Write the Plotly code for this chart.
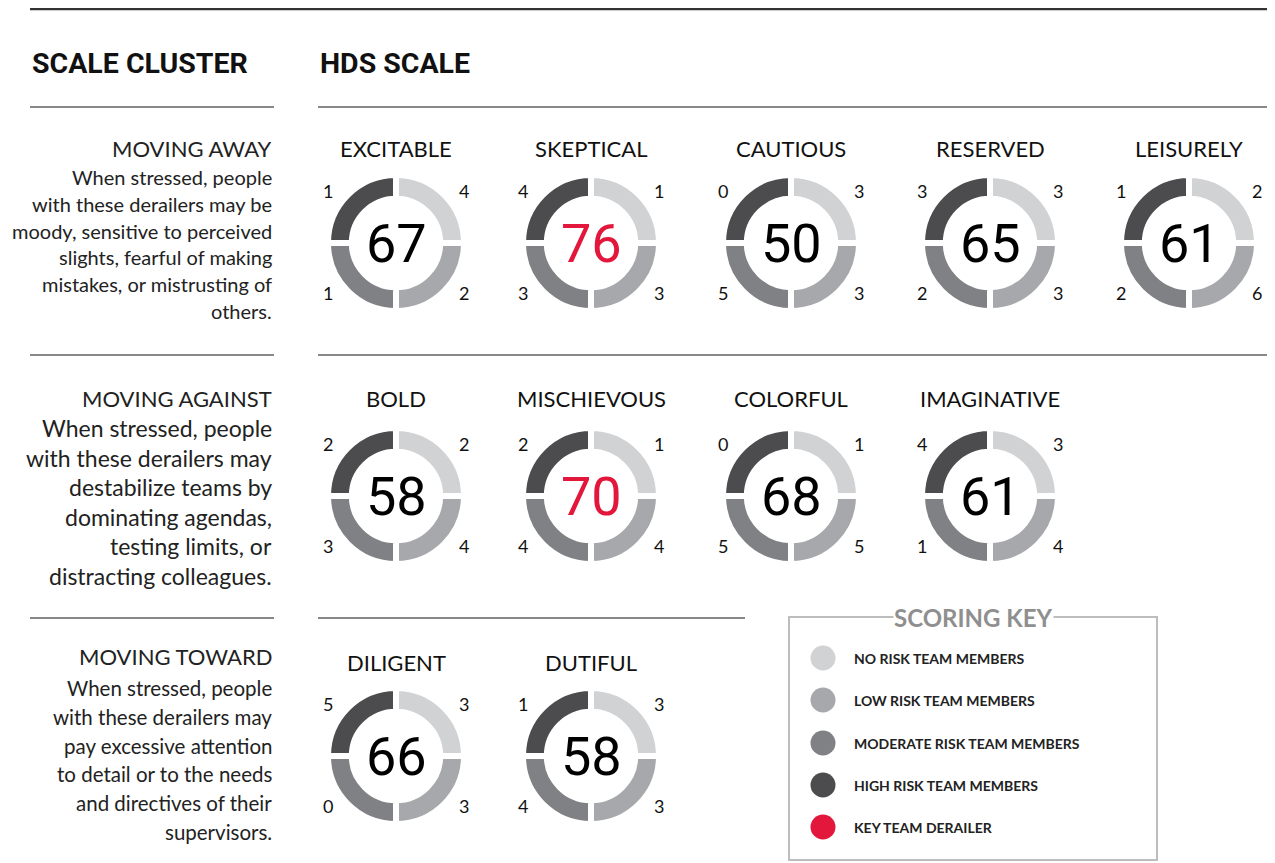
import plotly.graph_objects as go

# ---------------- data ----------------
scale_names = ["EXCITABLE", "SKEPTICAL", "CAUTIOUS", "RESERVED", "LEISURELY",
               "BOLD", "MISCHIEVOUS", "COLORFUL", "IMAGINATIVE",
               "DILIGENT", "DUTIFUL"]
scale_cluster = [0, 0, 0, 0, 0, 1, 1, 1, 1, 2, 2]
scores = [67, 76, 50, 65, 61, 58, 70, 68, 61, 66, 58]
key_derailer = [False, True, False, False, False, False, True, False, False, False, False]
no_risk = [4, 1, 3, 3, 2, 2, 1, 1, 3, 3, 3]
low_risk = [2, 3, 3, 3, 6, 4, 4, 5, 4, 3, 3]
moderate_risk = [1, 3, 5, 2, 2, 3, 4, 5, 1, 0, 4]
high_risk = [1, 4, 0, 3, 1, 2, 2, 0, 4, 5, 1]
quadrant_share = [1, 1, 1, 1]  # each risk group drawn as an equal quarter ring

cluster_titles = ["MOVING AWAY", "MOVING AGAINST", "MOVING TOWARD"]
cluster_text = [
    ["When stressed, people", "with these derailers may be", "moody, sensitive to perceived",
     "slights, fearful of making", "mistakes, or mistrusting of", "others."],
    ["When stressed, people", "with these derailers may", "destabilize teams by",
     "dominating agendas,", "testing limits, or", "distracting colleagues."],
    ["When stressed, people", "with these derailers may", "pay excessive attention",
     "to detail or to the needs", "and directives of their", "supervisors."],
]
key_labels = ["NO RISK TEAM MEMBERS", "LOW RISK TEAM MEMBERS", "MODERATE RISK TEAM MEMBERS",
              "HIGH RISK TEAM MEMBERS", "KEY TEAM DERAILER"]

# ---------------- style ----------------
C_NO, C_LOW, C_MOD, C_HIGH, C_RED = "#d1d2d4", "#a7a8ab", "#808184", "#4c4c4e", "#e3173b"
key_colors = [C_NO, C_LOW, C_MOD, C_HIGH, C_RED]
OFF = 8                      # page body margin
W, H = 1275 - OFF, 854       # figure size
NUM = "Roboto, Liberation Sans, sans-serif"
SANS = "Lato, Roboto, sans-serif"

col_x = [396, 591, 791, 990, 1189]
row_y = [243, 496, 756]
title_y = [148, 398, 662]
R_OUT, GAP = 68, 6
HOLE = 0.65

fig = go.Figure()
ann = []
shapes = []

col_in_row = [0, 0, 0]
for i, name in enumerate(scale_names):
    r = scale_cluster[i]
    c = col_in_row[r]
    col_in_row[r] += 1
    cx, cy = col_x[c], row_y[r]
    fig.add_trace(go.Pie(
        values=quadrant_share,
        labels=["No risk", "Low risk", "Moderate risk", "High risk"],
        marker=dict(colors=[C_NO, C_LOW, C_MOD, C_HIGH], line=dict(color="white", width=GAP)),
        hole=HOLE, sort=False, direction="clockwise", rotation=0,
        textinfo="none", hoverinfo="skip", showlegend=False,
        domain=dict(x=[(cx - OFF - R_OUT) / W, (cx - OFF + R_OUT) / W],
                    y=[1 - (cy - OFF + R_OUT) / H, 1 - (cy - OFF - R_OUT) / H]),
    ))
    ann.append(dict(x=cx, y=title_y[r], text=name, showarrow=False,
                    font=dict(family=SANS, size=22, color="#111")))
    ann.append(dict(x=cx, y=cy, text=str(scores[i]), showarrow=False,
                    font=dict(family=NUM, size=54,
                              color=C_RED if key_derailer[i] else "#000")))
    for dx, dy, v in [(-68, -52, high_risk[i]), (68, -52, no_risk[i]),
                      (-68, 50, moderate_risk[i]), (68, 50, low_risk[i])]:
        ann.append(dict(x=cx + dx, y=cy + dy, text=str(v), showarrow=False,
                        font=dict(family=SANS, size=18, color="#111")))

# left column texts
head_y = [148, 398, 656]
body_start = [177, 428, 688]
body_step = [26.8, 29.6, 28.8]
body_size = [20, 23, 20.5]
for r in range(3):
    ann.append(dict(x=274, y=head_y[r], text=cluster_titles[r], showarrow=False, xanchor="right",
                    font=dict(family=SANS, size=22, color="#222")))
    for k, line in enumerate(cluster_text[r]):
        ann.append(dict(x=274, y=body_start[r] + k * body_step[r], text=line, showarrow=False,
                        xanchor="right", font=dict(family=SANS, size=body_size[r], color="#222")))

# headers
for hx, htxt in [(30, "SCALE CLUSTER"), (318, "HDS SCALE")]:
    ann.append(dict(x=hx, y=63, text=htxt, showarrow=False, xanchor="left",
                    font=dict(family=NUM, size=28.5, weight=700, color="#111")))

# rules
shapes.append(dict(type="line", x0=30, x1=1275, y0=9, y1=9, line=dict(color="#333", width=2.5)))
for y, x1 in [(107, 1275), (355, 1275), (618, 745)]:
    shapes.append(dict(type="line", x0=30, x1=274, y0=y, y1=y, line=dict(color="#888", width=2)))
    shapes.append(dict(type="line", x0=318, x1=x1, y0=y, y1=y, line=dict(color="#888", width=2)))

# scoring key
shapes.append(dict(type="rect", x0=789, x1=1157, y0=617, y1=860, line=dict(color="#bdbdbd", width=2)))
ann.append(dict(x=973, y=617, text="<b>SCORING KEY</b>", showarrow=False, bgcolor="white",
                borderpad=0, font=dict(family=SANS, size=24, color="#8f8f8f"), xanchor="center"))
key_y = [658, 700, 743, 785, 827]
fig.add_trace(go.Scatter(x=[823] * len(key_labels), y=key_y, mode="markers",
                         marker=dict(size=25, color=key_colors), hoverinfo="skip", showlegend=False))
for lab, y in zip(key_labels, key_y):
    ann.append(dict(x=852, y=y, text="<b>" + lab + "</b>", showarrow=False, xanchor="left",
                    font=dict(family=SANS, size=14, color="#222")))

fig.update_layout(
    width=W, height=H, margin=dict(l=0, r=0, t=0, b=0),
    paper_bgcolor="white", plot_bgcolor="white",
    xaxis=dict(range=[OFF, OFF + W], visible=False, fixedrange=True),
    yaxis=dict(range=[OFF + H, OFF], visible=False, fixedrange=True),
    annotations=ann, shapes=shapes,
)
fig.write_html("out.html")
